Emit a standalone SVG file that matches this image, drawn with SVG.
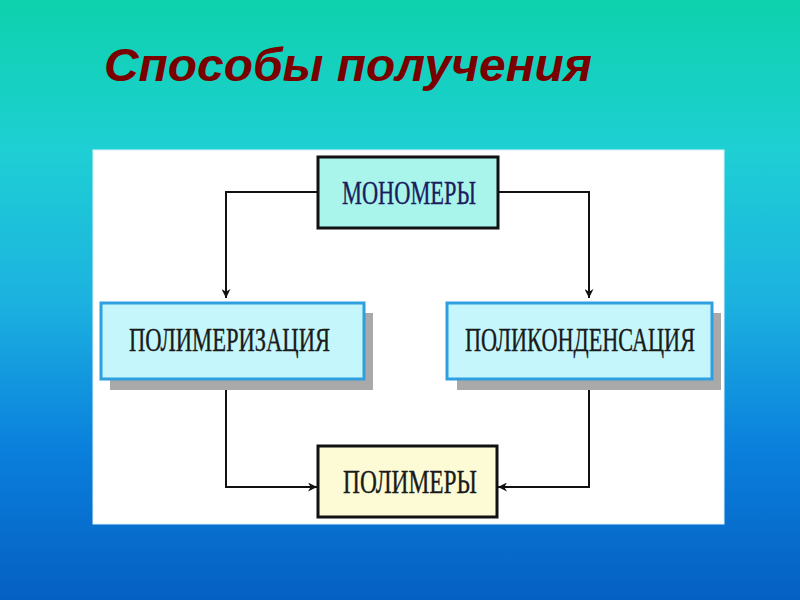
<svg xmlns="http://www.w3.org/2000/svg" width="800" height="600" viewBox="0 0 800 600">
  <defs>
    <linearGradient id="bg" x1="0" y1="0" x2="0" y2="1">
      <stop offset="0" stop-color="#0dd2ac"/>
      <stop offset="0.25" stop-color="#1ecfd4"/>
      <stop offset="0.5" stop-color="#1cb2e0"/>
      <stop offset="0.75" stop-color="#0a7fdc"/>
      <stop offset="1" stop-color="#0560c2"/>
    </linearGradient>
    <marker id="arr" viewBox="0 0 10 10" refX="10" refY="5" markerWidth="9" markerHeight="9" markerUnits="userSpaceOnUse" orient="auto">
      <path d="M0,0 L10,5 L0,10 L3,5 Z" fill="#111"/>
    </marker>
    <style>
      .title { font-family: "Liberation Sans", Arial, sans-serif; font-weight: bold; font-style: italic; font-size: 47px; fill: #7a0000; }
      .lbl { font-family: "Liberation Serif", "Times New Roman", serif; font-size: 23px; fill: #1a1a1a; stroke: #1a1a1a; stroke-width: 0.25; }
      .conn { fill: none; stroke: #111; stroke-width: 2; }
      .shadow { fill: #a9a9a9; }
      .proc { fill: #c4f6fc; stroke: #2f9fe0; stroke-width: 3; }
      .term { stroke: #111; stroke-width: 3; }
    </style>
  </defs>

  <rect x="0" y="0" width="800" height="600" fill="url(#bg)"/>
  <text class="title" x="104" y="81" textLength="488" lengthAdjust="spacingAndGlyphs">Способы получения</text>

  <rect x="93" y="150" width="631" height="374" fill="#ffffff" stroke="#d8f4ff" stroke-width="1"/>

  <g id="connectors">
    <path class="conn" d="M318,192 H226 V298" marker-end="url(#arr)"/>
    <path class="conn" d="M498,192 H589 V298" marker-end="url(#arr)"/>
    <path class="conn" d="M226,390 V487 H317" marker-end="url(#arr)"/>
    <path class="conn" d="M589,390 V487 H498" marker-end="url(#arr)"/>
  </g>

  <g id="monomery">
    <rect class="term" x="318" y="157" width="180" height="71" fill="#a9f5ec"/>
    <text class="lbl" transform="translate(342,204) scale(1,1.43)" textLength="134" lengthAdjust="spacingAndGlyphs" style="fill:#1c1c5e;stroke:#1c1c5e">МОНОМЕРЫ</text>
  </g>

  <g id="polimerizaciya">
    <rect class="shadow" x="110" y="313" width="263" height="77"/>
    <rect class="proc" x="101" y="303" width="263" height="76"/>
    <text class="lbl" transform="translate(129,351) scale(1,1.43)" textLength="201" lengthAdjust="spacingAndGlyphs">ПОЛИМЕРИЗАЦИЯ</text>
  </g>

  <g id="polikondensaciya">
    <rect class="shadow" x="457" y="313" width="264" height="77"/>
    <rect class="proc" x="447" y="303" width="265" height="76"/>
    <text class="lbl" transform="translate(465,351) scale(1,1.43)" textLength="230" lengthAdjust="spacingAndGlyphs">ПОЛИКОНДЕНСАЦИЯ</text>
  </g>

  <g id="polimery">
    <rect class="term" x="318" y="446" width="179" height="71" fill="#fcfbd6"/>
    <text class="lbl" transform="translate(343,493) scale(1,1.43)" textLength="134" lengthAdjust="spacingAndGlyphs">ПОЛИМЕРЫ</text>
  </g>
</svg>
